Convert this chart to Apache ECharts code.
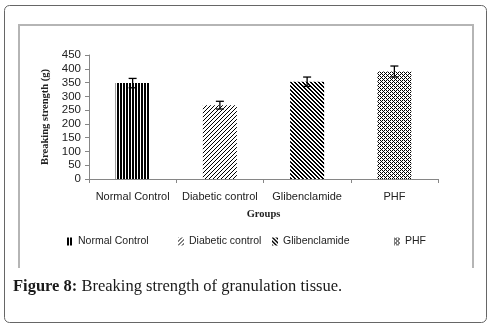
<!DOCTYPE html>
<html>
<head>
<meta charset="utf-8">
<script src="https://cdn.jsdelivr.net/npm/echarts@6/dist/echarts.min.js"></script>
<style>
  html, body { margin: 0; padding: 0; background: #fff; }
  #chart { width: 491px; height: 330px; }
</style>
</head>
<body>
<div id="chart"></div>
<script>
// Breaking strength of granulation tissue per treatment group
const groups = ['Normal Control', 'Diabetic control', 'Glibenclamide', 'PHF'];
const strength = [348, 268, 353, 390];
const strengthErr = [17, 14, 17, 20];
const yTicks = [0, 50, 100, 150, 200, 250, 300, 350, 400, 450];

// Build a small repeating monochrome fill from rows of 0/1 pixels
function makePattern(rows) {
  const c = document.createElement('canvas');
  c.width = rows[0].length;
  c.height = rows.length;
  const ctx = c.getContext('2d');
  ctx.fillStyle = '#fff';
  ctx.fillRect(0, 0, c.width, c.height);
  ctx.fillStyle = '#000';
  rows.forEach((r, y) => {
    for (let x = 0; x < r.length; x++) if (r[x] === '1') ctx.fillRect(x, y, 1, 1);
  });
  return { image: c, repeat: 'repeat' };
}

const fills = [
  makePattern(['110']),                             // vertical stripes
  makePattern(['0001', '0010', '0100', '1000']),    // thin forward diagonals
  makePattern(['1100', '0110', '0011', '1001']),    // heavy back diagonals
  makePattern(['1010', '0100', '1010', '0001'])     // fine checker dots
];

const legendLeft = [67, 178, 272, 394];

const series = groups.map((g, i) => ({
  name: g,
  type: 'bar',
  stack: 'all',
  barWidth: 34,
  itemStyle: { color: fills[i] },
  data: groups.map((_, j) => (j === i ? strength[j] : '-'))
}));

series.push({
  type: 'custom',
  name: 'err',
  silent: true,
  z: 10,
  renderItem: function (params, api) {
    const idx = api.value(0);
    const v = api.value(1);
    const e = api.value(2);
    const top = api.coord([idx, v + e]);
    const bot = api.coord([idx, v - e]);
    const hw = 4;
    const st = { stroke: '#000', lineWidth: 1.3 };
    return {
      type: 'group',
      children: [
        { type: 'line', shape: { x1: top[0], y1: top[1], x2: bot[0], y2: bot[1] }, style: st },
        { type: 'line', shape: { x1: top[0] - hw, y1: top[1], x2: top[0] + hw, y2: top[1] }, style: st },
        { type: 'line', shape: { x1: bot[0] - hw, y1: bot[1], x2: bot[0] + hw, y2: bot[1] }, style: st }
      ]
    };
  },
  data: groups.map((_, i) => [i, strength[i], strengthErr[i]])
});

const chart = echarts.init(document.getElementById('chart'), null, { renderer: 'canvas' });
chart.setOption({
  animation: false,
  backgroundColor: '#fff',
  grid: { left: 89, right: 53, top: 55, bottom: 151 },
  legend: groups.map((g, i) => ({
    data: [g],
    left: legendLeft[i],
    top: 236,
    padding: 0,
    itemWidth: 6,
    itemHeight: 8,
    itemGap: 4,
    icon: 'rect',
    textStyle: { fontFamily: 'Liberation Sans', fontSize: 10.5, color: '#222' },
    selectedMode: false
  })),
  xAxis: {
    type: 'category',
    data: groups,
    name: 'Groups',
    nameLocation: 'middle',
    nameGap: 30,
    nameTextStyle: { fontFamily: 'Liberation Serif', fontWeight: 'bold', fontSize: 10.5, color: '#222' },
    axisLine: { lineStyle: { color: '#868686', width: 1 } },
    axisTick: { show: true, length: 4, lineStyle: { color: '#868686' } },
    axisLabel: { fontFamily: 'Liberation Sans', fontSize: 11, color: '#222', margin: 12, interval: 0 }
  },
  yAxis: {
    type: 'value',
    min: yTicks[0],
    max: yTicks[yTicks.length - 1],
    interval: 50,
    name: 'Breaking strength (g)',
    nameLocation: 'middle',
    nameGap: 35,
    nameTextStyle: { fontFamily: 'Liberation Serif', fontWeight: 'bold', fontSize: 10.5, color: '#222' },
    splitLine: { show: false },
    axisLine: { show: true, lineStyle: { color: '#868686', width: 1 } },
    axisTick: { show: true, length: 4, lineStyle: { color: '#868686' } },
    axisLabel: { fontFamily: 'Liberation Sans', fontSize: 11.5, color: '#222', margin: 8 }
  },
  series: series,
  graphic: [
    {
      type: 'rect',
      shape: { x: 4.5, y: 5.5, width: 482, height: 317, r: 5 },
      style: { fill: 'none', stroke: '#666', lineWidth: 1 },
      silent: true
    },
    {
      type: 'polyline',
      shape: { points: [[19, 268], [19, 25], [473, 25], [473, 268]] },
      style: { fill: 'none', stroke: '#b5b5b5', lineWidth: 2 },
      silent: true
    },
    {
      type: 'text',
      left: 13,
      top: 278,
      style: {
        text: '{b|Figure 8:} Breaking strength of granulation tissue.',
        fontFamily: 'Liberation Serif',
        fontSize: 16.5,
        fill: '#1a1a1a',
        rich: { b: { fontWeight: 'bold', fontFamily: 'Liberation Serif', fontSize: 16.5, fill: '#1a1a1a' } }
      }
    }
  ]
});
</script>
</body>
</html>
